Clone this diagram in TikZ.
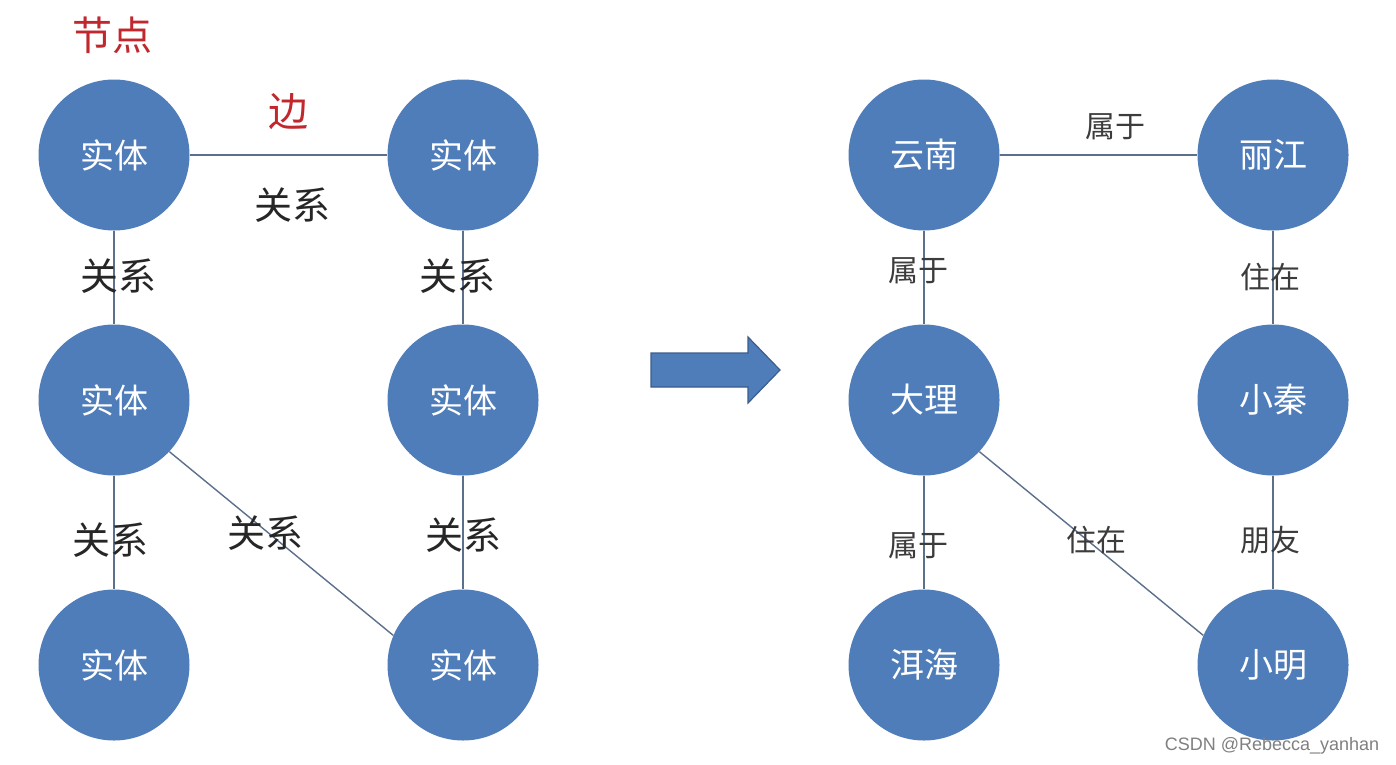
\documentclass[tikz,border=0pt]{standalone}
\usepackage{fontspec}
\setmainfont{Liberation Sans}
\newfontfamily\cjk{Noto Sans CJK SC}
\definecolor{entfill}{RGB}{79,125,186}
\definecolor{entline}{RGB}{92,112,140}
\definecolor{arrowline}{RGB}{60,92,140}
\definecolor{redlab}{RGB}{192,40,46}
\definecolor{graylab}{RGB}{60,60,60}
\tikzset{
  ent/.style={circle, fill=entfill, minimum size=151pt, inner sep=0pt, text=white, font=\cjk\fontsize{34}{36}\selectfont},
  rel/.style={draw=entline, line width=1.4pt},
  lab/.style={text=black!85, inner sep=0pt, font=\cjk\fontsize{38}{40}\selectfont},
  rlab/.style={text=graylab, inner sep=0pt, font=\cjk\fontsize{30}{32}\selectfont},
  redtext/.style={text=redlab, inner sep=0pt, font=\cjk\fontsize{40}{42}\selectfont},
  bigarrow/.style={fill=entfill, draw=arrowline, line width=1.2pt, line join=miter}
}
\begin{document}
\begin{tikzpicture}[x=1pt, y=-1pt]
\useasboundingbox (0,0) rectangle (1396,764);
\fill[white] (0,0) rectangle (1396,764);
% left graph
\node[ent] (a1) at (114,155) {实体};
\node[ent] (a2) at (114,400) {实体};
\node[ent] (a3) at (114,665) {实体};
\node[ent] (b1) at (463,155) {实体};
\node[ent] (b2) at (463,400) {实体};
\node[ent] (b3) at (463,665) {实体};
\draw[rel] (a1) -- (b1);
\draw[rel] (a1) -- (a2);
\draw[rel] (a2) -- (a3);
\draw[rel] (b1) -- (b2);
\draw[rel] (b2) -- (b3);
\draw[rel] (a2.-43) -- (b3.157);
\node[redtext] (t1) at (112,35) {节点};
\node[redtext] (t2) at (288,112) {边};
\node[lab] (l1) at (292,205) {关系};
\node[lab] (l2) at (118,276) {关系};
\node[lab] (l3) at (457,276) {关系};
\node[lab] (l4) at (110,540) {关系};
\node[lab] (l5) at (265,533) {关系};
\node[lab] (l6) at (463,535) {关系};
% arrow
\coordinate (arr) at (651,353);
\draw[bigarrow] (arr) -- ++(97,0) -- ++(0,-16) -- ++(32,33) -- ++(-32,33) -- ++(0,-16) -- ++(-97,0) -- cycle;
% right graph
\node[ent] (c1) at (924,155) {云南};
\node[ent] (c2) at (924,400) {大理};
\node[ent] (c3) at (924,665) {洱海};
\node[ent] (d1) at (1273,155) {丽江};
\node[ent] (d2) at (1273,400) {小秦};
\node[ent] (d3) at (1273,665) {小明};
\draw[rel] (c1) -- (d1);
\draw[rel] (c1) -- (c2);
\draw[rel] (c2) -- (c3);
\draw[rel] (d1) -- (d2);
\draw[rel] (d2) -- (d3);
\draw[rel] (c2.-43) -- (d3.157);
\node[rlab] (r1) at (1115,127) {属于};
\node[rlab] (r2) at (918,271) {属于};
\node[rlab] (r3) at (1270,277) {住在};
\node[rlab] (r4) at (918,546) {属于};
\node[rlab] (r5) at (1096,540) {住在};
\node[rlab] (r6) at (1270,540) {朋友};
\node[text=black!50, inner sep=0pt, font=\fontsize{18}{20}\selectfont] (wm) at (1272,746) {CSDN @Rebecca\_yanhan};
\end{tikzpicture}
\end{document}
